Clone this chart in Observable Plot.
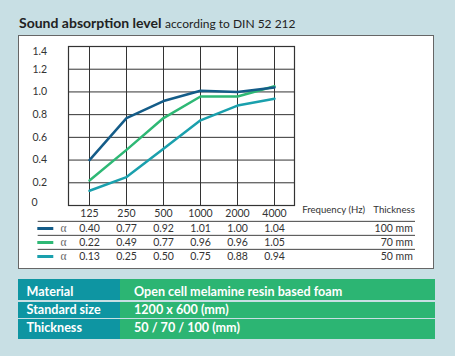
<!DOCTYPE html>
<html>
<head>
<meta charset="utf-8">
<script src="https://cdn.jsdelivr.net/npm/d3@7"></script>
<script src="https://cdn.jsdelivr.net/npm/@observablehq/plot@0.6"></script>
<style>
  html, body { margin: 0; padding: 0; }
  body { width: 455px; height: 356px; background: #c8dfe4; position: relative; overflow: hidden; font-family: Lato, "Open Sans", sans-serif; }
  #title { position: absolute; left: 19px; top: 14px; font-size: 14px; line-height: 17px; color: #222; white-space: nowrap; }
  #title b { font-weight: 700; }
  #title span { font-size: 12px; }
  #panel { position: absolute; left: 18px; top: 35px; width: 414px; height: 232px; background: #fff; border: 1px solid #666; }
  .layer { position: absolute; left: 0; }
  #spec { position: absolute; left: 18px; top: 279px; width: 417px; font-size: 12.6px; font-weight: 700; color: #fff; }
  #spec .row { display: flex; box-sizing: border-box; }
  #spec .row + .row { margin-top: 1.5px; }
  #spec .k, #spec .v { display: flex; align-items: center; box-sizing: border-box; white-space: nowrap; }
  #spec .k { background: #0e95a2; width: 102px; padding-left: 8.5px; }
  #spec .v { background: #2cb573; flex: 1; padding-left: 14px; }
</style>
</head>
<body>
<div id="title"><b>Sound absorption level</b> <span>according to DIN 52 212</span></div>
<div id="panel"></div>
<div id="chart" class="layer" style="top:0"></div>
<div id="table" class="layer" style="top:214px"></div>
<div id="spec"></div>
<script>
const frequencies = ["125", "250", "500", "1000", "2000", "4000"];
const thicknesses = ["100 mm", "70 mm", "50 mm"];
const alpha100 = [0.40, 0.77, 0.92, 1.01, 1.00, 1.04];
const alpha70  = [0.22, 0.49, 0.77, 0.96, 0.96, 1.05];
const alpha50  = [0.13, 0.25, 0.50, 0.75, 0.88, 0.94];
const colors = ["#145c88", "#2eb875", "#1aa0ad"];
const yTicks = [0, 0.2, 0.4, 0.6, 0.8, 1.0, 1.2, 1.4];
const specKeys = ["Material", "Standard size", "Thickness"];
const specValues = ["Open cell melamine resin based foam", "1200 x 600 (mm)", "50 / 70 / 100 (mm)"];

const seriesValues = [alpha100, alpha70, alpha50];
const rows = thicknesses.flatMap((t, s) => frequencies.map((f, i) => ({thickness: t, freq: f, alpha: seriesValues[s][i]})));
const colorScale = {domain: thicknesses, range: colors};
const fontFamily = "Lato, 'Open Sans', sans-serif";
const fmtY = d => d === 0 ? "0" : d.toFixed(1);
const midTicks = yTicks.slice(1, -1);

const chart = Plot.plot({
  width: 455, height: 220,
  marginLeft: 68, marginRight: 161, marginTop: 46, marginBottom: 15,
  style: {background: "transparent", fontFamily, fontSize: "10px", color: "#333"},
  x: {type: "point", domain: frequencies, padding: 0.5, label: null},
  y: {domain: [0, 1.4], label: null},
  color: colorScale,
  marks: [
    Plot.gridX(frequencies, {stroke: "#333", strokeOpacity: 1, strokeWidth: 1}),
    Plot.gridY(yTicks, {stroke: "#333", strokeOpacity: 1, strokeWidth: 1}),
    Plot.frame({stroke: "#333", strokeWidth: 1.2}),
    Plot.axisY(midTicks, {tickSize: 0, textAnchor: "start", dx: -27, fill: "#333", fontSize: 10.5, tickFormat: fmtY, label: null}),
    Plot.axisY([yTicks[yTicks.length - 1]], {tickSize: 0, textAnchor: "start", dx: -27, dy: 5, fill: "#333", fontSize: 10.5, tickFormat: fmtY, label: null}),
    Plot.axisY([yTicks[0]], {tickSize: 0, textAnchor: "start", dx: -28, dy: -3, fill: "#333", fontSize: 10.5, tickFormat: fmtY, label: null}),
    Plot.axisX(frequencies, {tickSize: 0, tickPadding: 4, fill: "#333", fontSize: 10.5, label: null}),
    Plot.text(["Frequency (Hz)"], {text: d => d, frameAnchor: "bottom-right", textAnchor: "start", dx: 7.7, dy: 7.7, fill: "#333", fontSize: 9.6}),
    Plot.text(["Thickness"], {text: d => d, frameAnchor: "bottom-right", textAnchor: "end", dx: 120.3, dy: 7.7, fill: "#333", fontSize: 9.6}),
    Plot.line(rows.filter(d => d.thickness === "50 mm"), {x: "freq", y: "alpha", stroke: "thickness", strokeWidth: 2.5}),
    Plot.line(rows.filter(d => d.thickness === "70 mm"), {x: "freq", y: "alpha", stroke: "thickness", strokeWidth: 2.5}),
    Plot.line(rows.filter(d => d.thickness === "100 mm"), {x: "freq", y: "alpha", stroke: "thickness", strokeWidth: 2.5})
  ]
});
document.getElementById("chart").append(chart);

const table = Plot.plot({
  width: 455, height: 56,
  marginLeft: 68, marginRight: 161, marginTop: 6.7, marginBottom: 6.3,
  style: {background: "transparent", fontFamily, fontSize: "10.5px", color: "#333"},
  x: {type: "point", domain: frequencies, padding: 0.5, axis: null},
  y: {type: "point", domain: thicknesses, padding: 0.5, axis: null},
  color: colorScale,
  marks: [
    Plot.ruleY(thicknesses, {y: d => d, dy: -7.15, stroke: "#444", strokeWidth: 1, insetLeft: -30.3, insetRight: -121}),
    Plot.ruleY(thicknesses, {y: d => d, stroke: d => d, strokeWidth: 3, insetLeft: -30.7, insetRight: 240.7}),
    Plot.text(thicknesses, {y: d => d, text: () => "α", frameAnchor: "left", dx: -8, fill: "#666", fontFamily: "'Liberation Serif', serif", fontSize: 11.5}),
    Plot.text(rows, {x: "freq", y: "thickness", text: d => d.alpha.toFixed(2), fill: "#333"}),
    Plot.text(thicknesses, {y: d => d, text: d => d, frameAnchor: "right", textAnchor: "end", dx: 118.3, fill: "#333"})
  ]
});
document.getElementById("table").append(table);

const specHeights = [21, 16, 20];
const specPads = [[3, 0], [0, 0], [0, 3]];
d3.select("#spec").selectAll("div.row").data(specKeys).join("div").attr("class", "row")
  .style("height", (d, i) => specHeights[i] + "px")
  .each(function(k, i) {
    const row = d3.select(this);
    const pad = specPads[i];
    row.append("div").attr("class", "k").style("padding-top", pad[0] + "px").style("padding-bottom", pad[1] + "px").text(k);
    row.append("div").attr("class", "v").style("padding-top", pad[0] + "px").style("padding-bottom", pad[1] + "px").text(specValues[i]);
  });
</script>
</body>
</html>
